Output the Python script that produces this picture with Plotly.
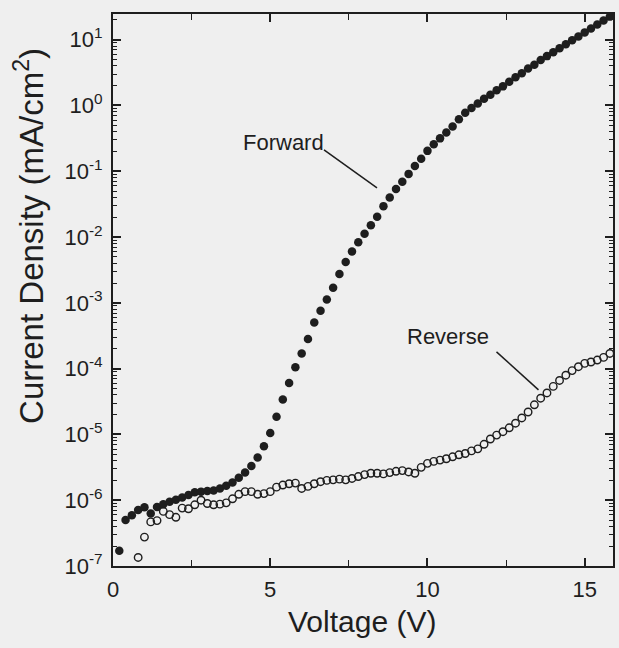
import plotly.graph_objects as go

# Voltage (V) for the forward sweep
v_forward = [0.2, 0.4, 0.6, 0.8, 1.0, 1.2, 1.4, 1.6, 1.8, 2.0,
             2.2, 2.4, 2.6, 2.8, 3.0, 3.2, 3.4, 3.6, 3.8, 4.0,
             4.2, 4.4, 4.6, 4.8, 5.0, 5.2, 5.4, 5.6, 5.8, 6.0,
             6.2, 6.4, 6.6, 6.8, 7.0, 7.2, 7.4, 7.6, 7.8, 8.0,
             8.2, 8.4, 8.6, 8.8, 9.0, 9.2, 9.4, 9.6, 9.8, 10.0,
             10.2, 10.4, 10.6, 10.8, 11.0, 11.2, 11.4, 11.6, 11.8, 12.0,
             12.2, 12.4, 12.6, 12.8, 13.0, 13.2, 13.4, 13.6, 13.8, 14.0,
             14.2, 14.4, 14.6, 14.8, 15.0, 15.2, 15.4, 15.6, 15.8]
# Current density (mA/cm^2), forward
j_forward = [1.7e-7, 5.0e-7, 5.9e-7, 7.1e-7, 7.8e-7, 6.3e-7, 7.9e-7, 8.7e-7, 9.5e-7, 1.02e-6,
             1.10e-6, 1.20e-6, 1.32e-6, 1.35e-6, 1.38e-6, 1.41e-6, 1.51e-6, 1.66e-6, 1.86e-6, 2.19e-6,
             2.63e-6, 3.31e-6, 4.47e-6, 6.61e-6, 1.05e-5, 1.86e-5, 3.39e-5, 6.03e-5, 1.05e-4, 1.70e-4,
             2.82e-4, 5.01e-4, 7.59e-4, 1.12e-3, 1.70e-3, 2.75e-3, 4.17e-3, 6.03e-3, 8.32e-3, 1.12e-2,
             1.51e-2, 2.04e-2, 2.95e-2, 3.98e-2, 5.37e-2, 6.92e-2, 9.12e-2, 0.120, 0.155, 0.204,
             0.257, 0.316, 0.389, 0.479, 0.617, 0.776, 0.912, 1.07, 1.26, 1.45,
             1.70, 1.95, 2.29, 2.69, 3.09, 3.63, 4.17, 4.90, 5.62, 6.46,
             7.41, 8.51, 9.77, 11.2, 12.9, 14.8, 17.0, 19.5, 22.4]

# Voltage (V) for the reverse sweep
v_reverse = [0.8, 1.0, 1.2, 1.4, 1.6, 1.8, 2.0,
             2.2, 2.4, 2.6, 2.8, 3.0, 3.2, 3.4, 3.6, 3.8, 4.0,
             4.2, 4.4, 4.6, 4.8, 5.0, 5.2, 5.4, 5.6, 5.8, 6.0,
             6.2, 6.4, 6.6, 6.8, 7.0, 7.2, 7.4, 7.6, 7.8, 8.0,
             8.2, 8.4, 8.6, 8.8, 9.0, 9.2, 9.4, 9.6, 9.8, 10.0,
             10.2, 10.4, 10.6, 10.8, 11.0, 11.2, 11.4, 11.6, 11.8, 12.0,
             12.2, 12.4, 12.6, 12.8, 13.0, 13.2, 13.4, 13.6, 13.8, 14.0,
             14.2, 14.4, 14.6, 14.8, 15.0, 15.2, 15.4, 15.6, 15.8]
# Current density (mA/cm^2), reverse
j_reverse = [1.35e-7, 2.75e-7, 4.68e-7, 4.90e-7, 6.76e-7, 6.03e-7, 5.50e-7,
             7.59e-7, 7.41e-7, 8.51e-7, 1.00e-6, 8.91e-7, 8.51e-7, 8.71e-7, 9.12e-7, 1.05e-6, 1.23e-6,
             1.35e-6, 1.35e-6, 1.23e-6, 1.26e-6, 1.35e-6, 1.58e-6, 1.70e-6, 1.78e-6, 1.82e-6, 1.51e-6,
             1.62e-6, 1.78e-6, 1.91e-6, 2.00e-6, 2.04e-6, 2.09e-6, 2.04e-6, 2.14e-6, 2.29e-6, 2.45e-6,
             2.57e-6, 2.57e-6, 2.51e-6, 2.63e-6, 2.75e-6, 2.82e-6, 2.69e-6, 2.57e-6, 3.16e-6, 3.63e-6,
             3.89e-6, 4.07e-6, 4.27e-6, 4.57e-6, 4.90e-6, 5.13e-6, 5.62e-6, 6.03e-6, 7.08e-6, 8.51e-6,
             9.77e-6, 1.10e-5, 1.26e-5, 1.48e-5, 1.78e-5, 2.19e-5, 2.82e-5, 3.55e-5, 4.27e-5, 5.37e-5,
             6.61e-5, 7.94e-5, 9.33e-5, 1.07e-4, 1.20e-4, 1.26e-4, 1.35e-4, 1.48e-4, 1.70e-4]

y_tick_vals = [1e-7, 1e-6, 1e-5, 1e-4, 1e-3, 1e-2, 1e-1, 1e0, 1e1]
y_tick_text = ["10<sup>-7</sup>", "10<sup>-6</sup>", "10<sup>-5</sup>", "10<sup>-4</sup>",
               "10<sup>-3</sup>", "10<sup>-2</sup>", "10<sup>-1</sup>", "10<sup>0</sup>",
               "10<sup>1</sup>"]
x_tick_vals = [0, 5, 10, 15]

ink = "#1e1e1e"
bg = "#efefef"
font_family = "Liberation Sans, Arial, sans-serif"

fig = go.Figure()
fig.add_trace(go.Scatter(
    x=v_forward, y=j_forward, mode="markers", name="Forward",
    marker=dict(symbol="circle", size=8.5, color=ink, line=dict(width=0)),
    cliponaxis=True))
fig.add_trace(go.Scatter(
    x=v_reverse, y=j_reverse, mode="markers", name="Reverse",
    marker=dict(symbol="circle-open", size=7.5, color=ink, line=dict(width=1.4)),
    cliponaxis=True))

# Labels with leader lines (paper coordinates)
fig.add_annotation(text="Forward", xref="paper", yref="paper", x=0.256, y=0.768,
                   xanchor="left", yanchor="middle", showarrow=False,
                   font=dict(size=22, color=ink, family=font_family))
fig.add_shape(type="line", xref="paper", yref="paper", x0=0.422, y0=0.754, x1=0.528, y1=0.685,
              line=dict(color=ink, width=1.5))
fig.add_annotation(text="Reverse", xref="paper", yref="paper", x=0.583, y=0.415,
                   xanchor="left", yanchor="middle", showarrow=False,
                   font=dict(size=22, color=ink, family=font_family))
fig.add_shape(type="line", xref="paper", yref="paper", x0=0.767, y0=0.388, x1=0.851, y1=0.319,
              line=dict(color=ink, width=1.5))

# Axis titles placed as annotations
fig.add_annotation(text="Current Density (mA/cm<sup>2</sup>)", xref="paper", yref="paper",
                   x=-0.168, y=0.598, textangle=-90, xanchor="center", yanchor="middle",
                   showarrow=False, font=dict(size=33, color=ink, family=font_family))
fig.add_annotation(text="Voltage (V)", xref="paper", yref="paper",
                   x=0.498, y=-0.100, xanchor="center", yanchor="middle",
                   showarrow=False, font=dict(size=30, color=ink, family=font_family))

fig.update_layout(
    width=619, height=648,
    margin=dict(l=113, r=4, t=14, b=82),
    paper_bgcolor=bg, plot_bgcolor=bg,
    showlegend=False,
    font=dict(family=font_family, color=ink, size=20),
    xaxis=dict(
        range=[0, 15.9], tickvals=x_tick_vals, ticktext=[str(v) for v in x_tick_vals],
        ticks="inside", ticklen=8, tickwidth=1.5, tickcolor=ink,
        minor=dict(dtick=2.5, ticks="inside", ticklen=6, tickwidth=1.2, tickcolor=ink),
        showline=True, linecolor=ink, linewidth=2, mirror="allticks",
        showgrid=False, zeroline=False,
        tickfont=dict(size=22), ticklabelstandoff=3,
    ),
    yaxis=dict(
        type="log", range=[-7, 1.39],
        tickvals=y_tick_vals, ticktext=y_tick_text,
        ticks="inside", ticklen=8, tickwidth=1.5, tickcolor=ink,
        minor=dict(ticks="inside", ticklen=4, tickwidth=1, tickcolor=ink, dtick="D1"),
        showline=True, linecolor=ink, linewidth=2, mirror="allticks",
        showgrid=False, zeroline=False,
        tickfont=dict(size=22), ticklabelstandoff=4,
    ),
)

fig.write_html("out.html")
